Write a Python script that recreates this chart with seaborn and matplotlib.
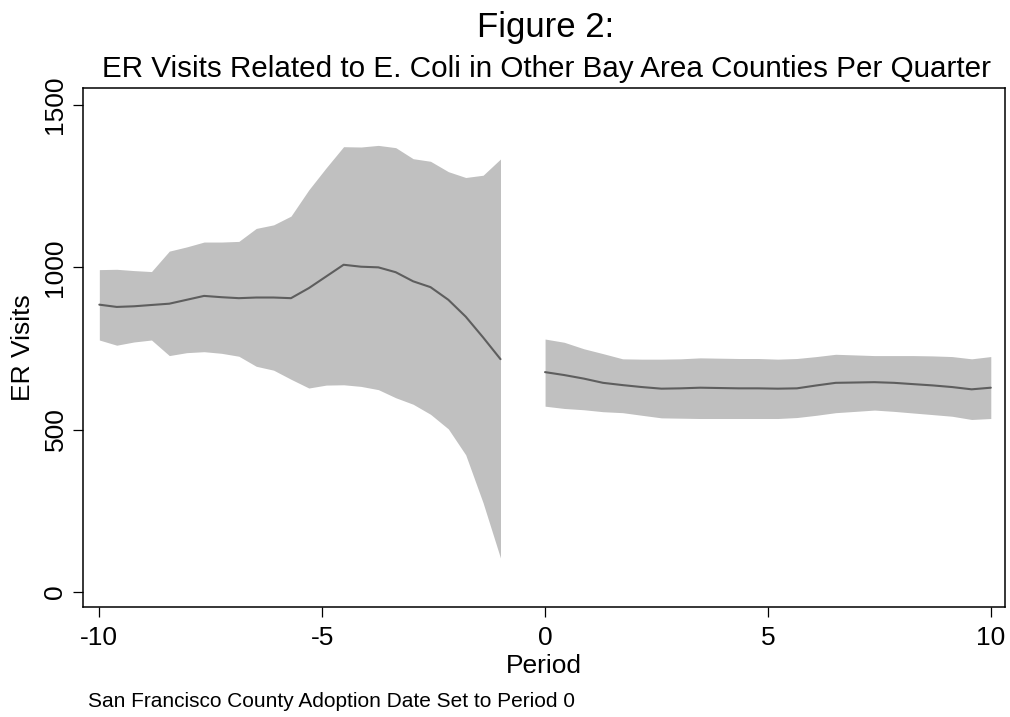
import seaborn as sns
import pandas as pd
import matplotlib
matplotlib.use('Agg')
from matplotlib import pyplot as plt


# Periods before adoption (-10 .. -1) and after (0 .. 10)
x_pre = [-10.0, -9.61, -9.22, -8.83, -8.43, -8.04, -7.65, -7.26, -6.87, -6.48, -6.09, -5.70,
         -5.30, -4.91, -4.52, -4.13, -3.74, -3.35, -2.96, -2.57, -2.17, -1.78, -1.39, -1.0]
x_post = [0.0, 0.43, 0.87, 1.30, 1.74, 2.17, 2.61, 3.04, 3.48, 3.91, 4.35, 4.78,
          5.22, 5.65, 6.09, 6.52, 6.96, 7.39, 7.83, 8.26, 8.70, 9.13, 9.57, 10.0]

mean_pre = [885, 878, 880, 884, 888, 900, 912, 908, 905, 907, 907, 905,
            936, 972, 1008, 1002, 1000, 985, 957, 939, 900, 848, 784, 717]
upper_pre = [993, 994, 990, 987, 1050, 1063, 1078, 1078, 1080, 1120, 1131, 1158,
             1239, 1307, 1372, 1371, 1376, 1369, 1335, 1327, 1295, 1277, 1284, 1334]
lower_pre = [776, 760, 770, 776, 728, 737, 740, 735, 726, 695, 683, 655,
             628, 637, 638, 633, 623, 598, 578, 547, 502, 422, 274, 104]

mean_post = [677, 668, 657, 644, 637, 631, 626, 627, 629, 628, 627, 627,
             626, 627, 636, 644, 645, 646, 644, 640, 636, 631, 624, 629]
upper_post = [779, 769, 749, 734, 718, 717, 717, 718, 721, 720, 719, 719,
              717, 719, 725, 732, 730, 728, 728, 728, 727, 725, 718, 725]
lower_post = [572, 565, 561, 555, 552, 544, 536, 535, 534, 534, 534, 534,
              534, 537, 544, 552, 556, 560, 556, 551, 546, 541, 531, 534]

pre_df = pd.DataFrame({'period': x_pre, 'visits': mean_pre, 'lo': lower_pre, 'hi': upper_pre})
post_df = pd.DataFrame({'period': x_post, 'visits': mean_post, 'lo': lower_post, 'hi': upper_post})

sns.set_style('white')
plt.rcParams['font.family'] = ['Liberation Sans', 'DejaVu Sans']
plt.rcParams['text.color'] = 'black'
plt.rcParams['axes.labelcolor'] = 'black'
plt.rcParams['xtick.color'] = 'black'
plt.rcParams['ytick.color'] = 'black'

fig = plt.figure(figsize=(10.1, 7.17), dpi=100)
ax = fig.add_axes([0.0822, 0.153, 0.9129, 0.7243])

# Confidence bands
for _df in (pre_df, post_df):
    ax.fill_between(_df['period'], _df['lo'], _df['hi'], color='#c0c0c0', linewidth=0, zorder=1)

# Mean lines
sns.lineplot(data=pre_df, x='period', y='visits', color='#5e5e5e', linewidth=1.5, ax=ax, zorder=2)
sns.lineplot(data=post_df, x='period', y='visits', color='#5e5e5e', linewidth=1.5, ax=ax, zorder=2)

ax.set_xlim(-10.366, 10.32)
ax.set_ylim(-48, 1553)
ax.set_xticks([-10, -5, 0, 5, 10])
ax.set_xticklabels(['-10', '-5', '0', '5', '10'])
ax.set_yticks([0, 500, 1000, 1500])
ax.set_yticklabels(['0', '500', '1000', '1500'], rotation=90, va='center')
ax.tick_params(axis='both', direction='out', length=7.2, width=0.9, color='black',
               labelsize=19, bottom=True, left=True)
ax.tick_params(axis='x', pad=6.5)
ax.tick_params(axis='y', pad=4)

for s in ax.spines.values():
    s.set_visible(True)
    s.set_color('black')
    s.set_linewidth(1.1)

ax.set_xlabel('Period', fontsize=19)
ax.xaxis.set_label_coords(0.5, -0.127)
ax.xaxis.label.set_verticalalignment('baseline')
ax.set_ylabel('ER Visits', fontsize=19)
ax.yaxis.set_label_coords(-0.0656, 0.5)
ax.yaxis.label.set_verticalalignment('center')

fig.text(0.5406, 0.9484, 'Figure 2:', ha='center', va='baseline', fontsize=25)
fig.text(0.5406, 0.893, 'ER Visits Related to E. Coli in Other Bay Area Counties Per Quarter',
         ha='center', va='baseline', fontsize=21.3)
fig.text(0.0874, 0.0144, 'San Francisco County Adoption Date Set to Period 0',
         ha='left', va='baseline', fontsize=15)

fig.savefig('out.png', dpi=100)
